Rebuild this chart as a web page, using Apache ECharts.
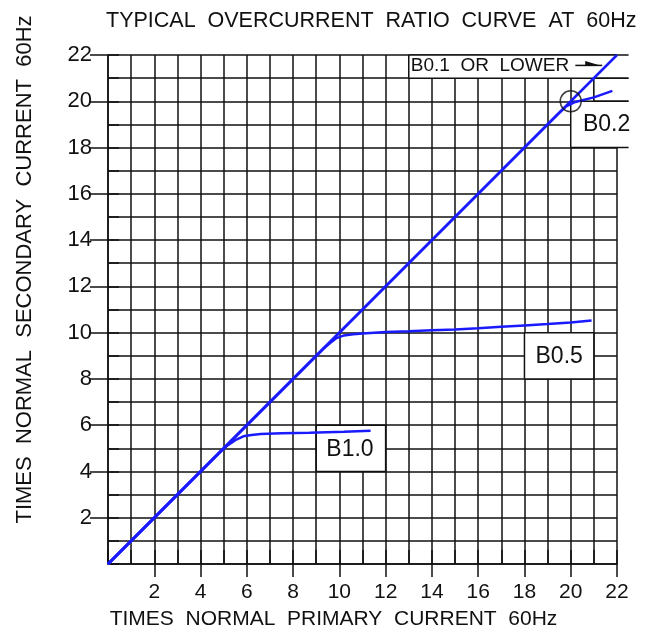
<!DOCTYPE html>
<html>
<head>
<meta charset="utf-8">
<script src="https://cdn.jsdelivr.net/npm/echarts@6/dist/echarts.min.js"></script>
<style>
  html, body { margin: 0; padding: 0; background: #fff; }
  #chart { width: 646px; height: 635px; }
</style>
</head>
<body>
<div id="chart"></div>
<script>
// tick labels (0 is left unlabeled in the original)
const tickValues = [2, 4, 6, 8, 10, 12, 14, 16, 18, 20, 22]

// burden curves, [primary, secondary] in times normal current
const ratingNames = ['B0.1  OR  LOWER', 'B0.2', 'B0.5', 'B1.0']
const curveB01 = [[0, 0], [22, 22]]
const curveB02 = [[0, 0], [19.4, 19.4], [19.8, 19.78], [20.2, 19.97], [21, 20.17], [21.8, 20.45]]
const curveB05 = [[0, 0], [9.3, 9.3], [9.6, 9.55], [9.85, 9.75], [10.2, 9.88], [10.6, 9.93], [11, 9.96],
  [12, 10.03], [13, 10.06], [14, 10.1], [15, 10.14], [16, 10.19], [17, 10.25], [18, 10.31],
  [19, 10.37], [20, 10.44], [20.9, 10.52]]
const curveB10 = [[0, 0], [4.9, 4.9], [5.2, 5.15], [5.5, 5.35], [5.85, 5.52], [6.2, 5.58], [6.6, 5.62],
  [7.5, 5.65], [8.7, 5.67], [10.2, 5.72], [11.35, 5.76]]
const markedPoint = [[20, 20]]

const FONT = '"Liberation Sans", Arial, sans-serif'
const INK = '#111'
const BLUE = '#1a1aff'
const gridLine = { color: INK, width: 1.5 }

// white label boxes cut out of the grid; sides = which edges stay drawn
const boxes = [
  { x: [13, 22.5], y: [21, 22], sides: 'ltb', text: ratingNames[0], at: [13, 21.55], align: 'left', size: 19, arrow: [20.2, 21.36] },
  { x: [21, 22.5], y: [20, 21], sides: 'ltb' },
  { x: [20, 22.5], y: [18, 20], sides: 'ltb', text: ratingNames[1], at: [21.55, 19], align: 'center', size: 23 },
  { x: [18, 21], y: [8, 10], sides: 'ltrb', text: ratingNames[2], at: [19.5, 8.95], align: 'center', size: 23 },
  { x: [9, 12], y: [4, 6], sides: 'ltrb', text: ratingNames[3], at: [10.46, 4.93], align: 'center', size: 23 }
]

function renderBox(params, api) {
  const b = boxes[params.dataIndex]
  const tl = api.coord([b.x[0], b.y[1]])
  const br = api.coord([b.x[1], b.y[0]])
  const children = [{
    type: 'rect',
    shape: { x: tl[0], y: tl[1], width: br[0] - tl[0], height: br[1] - tl[1] },
    style: { fill: '#fff' }
  }]
  const edge = (x1, y1, x2, y2) => ({
    type: 'line',
    shape: { x1, y1, x2, y2 },
    style: { stroke: INK, lineWidth: 1.5 }
  })
  if (b.sides.includes('l')) children.push(edge(tl[0], tl[1], tl[0], br[1]))
  if (b.sides.includes('r')) children.push(edge(br[0], tl[1], br[0], br[1]))
  if (b.sides.includes('t')) children.push(edge(tl[0], tl[1], br[0], tl[1]))
  if (b.sides.includes('b')) children.push(edge(tl[0], br[1], br[0], br[1]))
  if (b.text) {
    const p = api.coord(b.at)
    children.push({
      type: 'text',
      style: {
        text: b.text, x: p[0] + (b.align === 'left' ? 2 : 0), y: p[1],
        align: b.align, verticalAlign: 'middle',
        fontSize: b.size, fontFamily: FONT, fill: INK
      }
    })
  }
  if (b.arrow) {
    const a = api.coord([b.arrow[0], b.at[1]])
    const e = api.coord([b.arrow[1], b.at[1]])
    children.push(edge(a[0], a[1], e[0], e[1]))
    children.push({
      type: 'polygon',
      shape: { points: [[e[0] - 17, e[1] - 4.5], [e[0] - 2, e[1]], [e[0] - 17, e[1]]] },
      style: { fill: INK }
    })
  }
  return { type: 'group', children }
}

const chart = echarts.init(document.getElementById('chart'))

const option = {
  animation: false,
  backgroundColor: '#fff',
  title: {
    text: 'TYPICAL  OVERCURRENT  RATIO  CURVE  AT  60Hz',
    left: 106,
    top: 10,
    padding: 0,
    textStyle: { fontFamily: FONT, fontSize: 21.5, fontWeight: 'normal', color: INK }
  },
  grid: { left: 108, right: 29, top: 55, bottom: 71 },
  xAxis: [
    {
      type: 'value', position: 'bottom', min: 0, max: 22, interval: 2,
      name: 'TIMES  NORMAL  PRIMARY  CURRENT  60Hz',
      nameLocation: 'middle', nameGap: 45,
      nameTextStyle: { fontFamily: FONT, fontSize: 21, color: INK, padding: [0, 58, 0, 0] },
      axisLine: { show: true, lineStyle: gridLine },
      axisTick: { show: true, length: 13, customValues: tickValues, lineStyle: gridLine },
      axisLabel: { customValues: tickValues, fontFamily: FONT, fontSize: 21, color: INK, margin: 18 },
      splitLine: { show: false }
    },
    {
      type: 'value', position: 'top', min: 0, max: 22, interval: 1,
      axisLine: { show: false },
      axisTick: { show: true, length: 14, lineStyle: gridLine },
      axisLabel: { show: false },
      splitLine: { show: true, lineStyle: gridLine }
    }
  ],
  yAxis: [
    {
      type: 'value', position: 'left', min: 0, max: 22, interval: 2,
      name: 'TIMES  NORMAL  SECONDARY  CURRENT  60Hz',
      nameLocation: 'middle', nameGap: 72,
      nameTextStyle: { fontFamily: FONT, fontSize: 22, color: INK, padding: [0, 0, 0, 80] },
      axisLine: { show: true, lineStyle: gridLine },
      axisTick: { show: true, length: 18, customValues: tickValues, lineStyle: gridLine },
      axisLabel: { customValues: tickValues, fontFamily: FONT, fontSize: 22, color: INK, margin: 16 },
      splitLine: { show: false }
    },
    {
      type: 'value', position: 'right', min: 0, max: 22, interval: 1,
      axisLine: { show: false },
      axisTick: { show: true, length: 11, lineStyle: gridLine },
      axisLabel: { show: false },
      splitLine: { show: true, lineStyle: gridLine }
    }
  ],
  series: [
    {
      type: 'custom', name: 'labels', z: 1,
      renderItem: renderBox,
      data: boxes.map((b, i) => [b.x[0], b.y[0], i]),
      silent: true
    },
    { type: 'line', name: ratingNames[0], data: curveB01, z: 2, showSymbol: false, lineStyle: { color: BLUE, width: 2.5 } },
    { type: 'line', name: ratingNames[1], data: curveB02, z: 2, showSymbol: false, lineStyle: { color: BLUE, width: 2.5 } },
    { type: 'line', name: ratingNames[2], data: curveB05, z: 2, showSymbol: false, lineStyle: { color: BLUE, width: 2.5 } },
    { type: 'line', name: ratingNames[3], data: curveB10, z: 2, showSymbol: false, lineStyle: { color: BLUE, width: 2.5 } },
    {
      type: 'scatter', name: 'marker', data: markedPoint, z: 3,
      symbol: 'circle', symbolSize: 21,
      itemStyle: { color: 'rgba(0,0,0,0)', borderColor: INK, borderWidth: 1.5 }
    }
  ]
}

chart.setOption(option)
</script>
</body>
</html>
